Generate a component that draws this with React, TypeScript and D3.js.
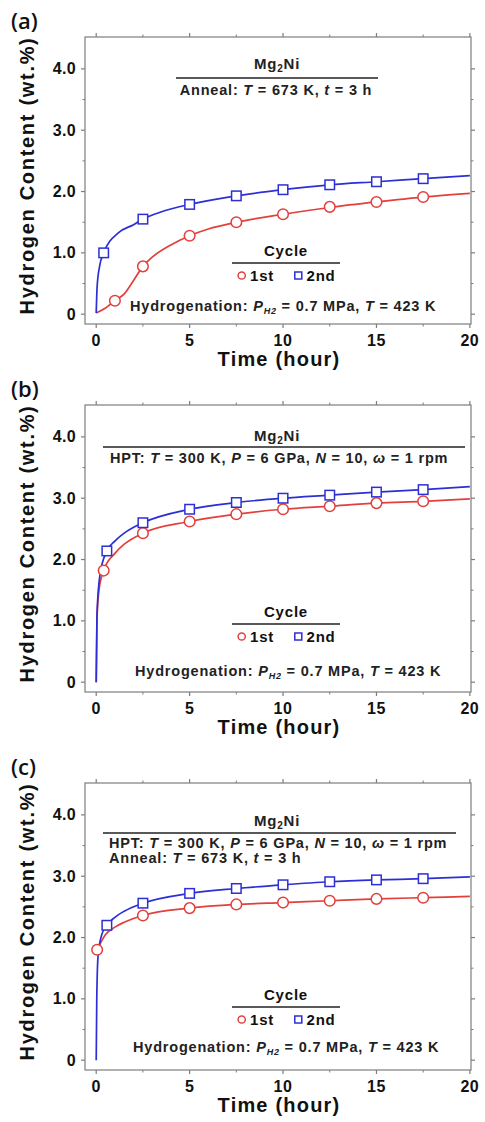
import React from "react";
import * as d3 from "d3";

// ---------- data ----------
const X_TICKS = [0, 5, 10, 15, 20];
const X_MINOR = [2.5, 7.5, 12.5, 17.5];
const Y_TICKS = [0, 1, 2, 3, 4];
const Y_TICK_LABELS = ["0", "1.0", "2.0", "3.0", "4.0"];
const Y_MINOR = [0.5, 1.5, 2.5, 3.5];

// Panel (a) — annealed
const A_T1 = [1.0, 2.5, 5, 7.5, 10, 12.5, 15, 17.5];
const A_H1 = [0.22, 0.78, 1.28, 1.5, 1.63, 1.75, 1.83, 1.91];
const A_T2 = [0.4, 2.5, 5, 7.5, 10, 12.5, 15, 17.5];
const A_H2 = [1.0, 1.55, 1.79, 1.93, 2.03, 2.11, 2.16, 2.21];
const A_FIT1_T = [0, 0.5, 1, 1.5, 2, 2.5, 3, 4, 5, 6, 7.5, 10, 12.5, 15, 17.5, 20];
const A_FIT1_H = [0.02, 0.1, 0.22, 0.33, 0.55, 0.78, 0.93, 1.13, 1.28, 1.39, 1.5, 1.63, 1.74, 1.83, 1.91, 1.97];
const A_FIT2_T = [0, 0.05, 0.18, 0.4, 1.2, 2, 2.5, 3.5, 5, 7.5, 10, 12.5, 15, 17.5, 20];
const A_FIT2_H = [0.02, 0.45, 0.78, 1.0, 1.33, 1.46, 1.55, 1.67, 1.79, 1.93, 2.03, 2.11, 2.16, 2.21, 2.26];

// Panel (b) — HPT
const B_T1 = [0.4, 2.5, 5, 7.5, 10, 12.5, 15, 17.5];
const B_H1 = [1.82, 2.43, 2.62, 2.74, 2.82, 2.87, 2.92, 2.95];
const B_T2 = [0.57, 2.5, 5, 7.5, 10, 12.5, 15, 17.5];
const B_H2 = [2.14, 2.6, 2.82, 2.93, 3.0, 3.05, 3.1, 3.14];
const B_FIT1_T = [0, 0.04, 0.15, 0.4, 1, 1.5, 2.5, 5, 7.5, 10, 12.5, 15, 17.5, 20];
const B_FIT1_H = [0, 1.0, 1.5, 1.82, 2.1, 2.25, 2.43, 2.62, 2.74, 2.82, 2.87, 2.92, 2.95, 2.99];
const B_FIT2_T = [0, 0.04, 0.2, 0.57, 1, 1.5, 2.5, 5, 7.5, 10, 12.5, 15, 17.5, 20];
const B_FIT2_H = [0, 1.1, 1.75, 2.14, 2.3, 2.43, 2.6, 2.82, 2.93, 3.0, 3.05, 3.1, 3.14, 3.19];

// Panel (c) — HPT + anneal
const C_T1 = [0.05, 2.5, 5, 7.5, 10, 12.5, 15, 17.5];
const C_H1 = [1.8, 2.36, 2.48, 2.54, 2.57, 2.6, 2.63, 2.65];
const C_T2 = [0.57, 2.5, 5, 7.5, 10, 12.5, 15, 17.5];
const C_H2 = [2.2, 2.56, 2.72, 2.8, 2.86, 2.91, 2.94, 2.96];
const C_FIT1_T = [0.05, 0.5, 1, 1.5, 2.5, 5, 7.5, 10, 12.5, 15, 17.5, 20];
const C_FIT1_H = [1.8, 2.05, 2.17, 2.25, 2.36, 2.48, 2.54, 2.57, 2.6, 2.63, 2.65, 2.67];
const C_FIT2_T = [0, 0.03, 0.1, 0.3, 0.57, 1, 1.5, 2.5, 5, 7.5, 10, 12.5, 15, 17.5, 20];
const C_FIT2_H = [0, 1.0, 1.7, 2.05, 2.2, 2.33, 2.43, 2.56, 2.72, 2.8, 2.86, 2.91, 2.94, 2.96, 2.99];

const SERIES_NAMES = ["1st", "2nd"];

// ---------- styles ----------
const W = 485;
const H = 1122;
const LEFT = 85;
const RIGHT = 471;
const PH = 287;
const RED = "#e2403c";
const BLUE = "#2d2fd4";
const AXIS = "#7d7d7d";
const FONT = "'Liberation Sans', Arial, sans-serif";
const ANN = { fontSize: 14.5, letterSpacing: 0.8 };

const zip = (a: number[], b: number[]) => a.map((v, i) => [v, b[i]] as [number, number]);

type PanelCfg = {
  label: string;
  top: number;
  s1: [number, number][];
  s2: [number, number][];
  f1: [number, number][];
  f2: [number, number][];
  kind: "a" | "b" | "c";
  legendY: number;
  hydroX: number;
  hydroY: number;
};

const PANELS: PanelCfg[] = [
  { label: "(a)", top: 37, s1: zip(A_T1, A_H1), s2: zip(A_T2, A_H2), f1: zip(A_FIT1_T, A_FIT1_H), f2: zip(A_FIT2_T, A_FIT2_H), kind: "a", legendY: 263, hydroX: 130, hydroY: 306 },
  { label: "(b)", top: 405, s1: zip(B_T1, B_H1), s2: zip(B_T2, B_H2), f1: zip(B_FIT1_T, B_FIT1_H), f2: zip(B_FIT2_T, B_FIT2_H), kind: "b", legendY: 624, hydroX: 135, hydroY: 671 },
  { label: "(c)", top: 783, s1: zip(C_T1, C_H1), s2: zip(C_T2, C_H2), f1: zip(C_FIT1_T, C_FIT1_H), f2: zip(C_FIT2_T, C_FIT2_H), kind: "c", legendY: 1007, hydroX: 133, hydroY: 1047 },
];

const x = d3.scaleLinear().domain([-0.6, 20.06]).range([LEFT, RIGHT]);

function Circle({ cx, cy, r, color }: { cx: number; cy: number; r: number; color: string }) {
  return <circle cx={cx} cy={cy} r={r} fill="#fff" stroke={color} strokeWidth={1.5} />;
}
function Square({ cx, cy, s, color }: { cx: number; cy: number; s: number; color: string }) {
  return <rect x={cx - s / 2} y={cy - s / 2} width={s} height={s} fill="#fff" stroke={color} strokeWidth={1.5} />;
}

const HPT = (x0: number, y: number) => (
  <text x={x0} y={y} {...ANN} fontWeight="bold" fontFamily={FONT} fill="#222">
    HPT: <tspan fontStyle="italic">T</tspan> = 300 K, <tspan fontStyle="italic">P</tspan> = 6 GPa,{" "}
    <tspan fontStyle="italic">N</tspan> = 10, <tspan fontStyle="italic">ω</tspan> = 1 rpm
  </text>
);
const ANNEAL = (x0: number, y: number, anchor: string) => (
  <text x={x0} y={y} {...ANN} fontWeight="bold" fontFamily={FONT} fill="#222" textAnchor={anchor}>
    Anneal: <tspan fontStyle="italic">T</tspan> = 673 K, <tspan fontStyle="italic">t</tspan> = 3 h
  </text>
);
const MG2NI = (cx: number, y: number) => (
  <text x={cx} y={y} fontSize={15} letterSpacing={0.8} fontWeight="bold" fontFamily={FONT} fill="#222" textAnchor="middle">
    Mg<tspan fontSize={10} dy={3}>2</tspan>
    <tspan dy={-3}>Ni</tspan>
  </text>
);

function Panel({ p }: { p: PanelCfg }) {
  const bottom = p.top + PH;
  const y = d3.scaleLinear().domain([-0.16, 4.52]).range([bottom, p.top]);
  const line = d3
    .line<[number, number]>()
    .x((d) => x(d[0]))
    .y((d) => y(d[1]))
    .curve(d3.curveMonotoneX);

  const mid = (p.top + bottom) / 2;
  return (
    <g>
      <text x={11} y={p.top - 8} fontSize={22} fontWeight={600} fontFamily="'Open Sans', sans-serif" fill="#111">
        {p.label}
      </text>
      {/* frame */}
      <rect x={LEFT} y={p.top} width={RIGHT - LEFT} height={PH} fill="none" stroke={AXIS} strokeWidth={1.2} />
      {/* x ticks */}
      {X_TICKS.map((t) => (
        <g key={"xt" + t}>
          <line x1={x(t)} x2={x(t)} y1={bottom} y2={bottom + 4} stroke={AXIS} strokeWidth={1.2} />
          <line x1={x(t)} x2={x(t)} y1={p.top} y2={p.top - 4} stroke={AXIS} strokeWidth={1.2} />
          <text x={x(t)} y={bottom + 22} fontSize={16} letterSpacing={0.6} fontWeight="bold" fontFamily={FONT} textAnchor="middle" fill="#111">
            {t}
          </text>
        </g>
      ))}
      {X_MINOR.map((t) => (
        <g key={"xm" + t}>
          <line x1={x(t)} x2={x(t)} y1={bottom} y2={bottom + 2.5} stroke={AXIS} strokeWidth={1} />
          <line x1={x(t)} x2={x(t)} y1={p.top} y2={p.top - 2.5} stroke={AXIS} strokeWidth={1} />
        </g>
      ))}
      {Y_TICKS.map((v, i) => (
        <g key={"yt" + v}>
          <line x1={LEFT} x2={LEFT - 4} y1={y(v)} y2={y(v)} stroke={AXIS} strokeWidth={1.2} />
          <line x1={RIGHT} x2={RIGHT + 4} y1={y(v)} y2={y(v)} stroke={AXIS} strokeWidth={1.2} />
          <text x={LEFT - 9} y={y(v) + 5.5} fontSize={16} letterSpacing={0.3} fontWeight="bold" fontFamily={FONT} textAnchor="end" fill="#111">
            {Y_TICK_LABELS[i]}
          </text>
        </g>
      ))}
      {Y_MINOR.map((v) => (
        <g key={"ym" + v}>
          <line x1={LEFT} x2={LEFT - 2.5} y1={y(v)} y2={y(v)} stroke={AXIS} strokeWidth={1} />
          <line x1={RIGHT} x2={RIGHT + 2.5} y1={y(v)} y2={y(v)} stroke={AXIS} strokeWidth={1} />
        </g>
      ))}
      {/* axis titles */}
      <text
        transform={`translate(34,${mid - 5}) rotate(-90)`}
        fontSize={20}
        letterSpacing={1.7}
        fontWeight="bold"
        fontFamily={FONT}
        textAnchor="middle"
        fill="#111"
      >
        Hydrogen Content (wt.%)
      </text>
      <text x={279} y={bottom + 41.5} fontSize={20} letterSpacing={1.2} fontWeight="bold" fontFamily={FONT} textAnchor="middle" fill="#111">
        Time (hour)
      </text>

      {/* header annotations */}
      {p.kind === "a" && (
        <g>
          {MG2NI(277, p.top + 32)}
          <line x1={176} x2={378} y1={p.top + 41} y2={p.top + 41} stroke="#222" strokeWidth={1.5} />
          {ANNEAL(276, p.top + 58, "middle")}
        </g>
      )}
      {p.kind === "b" && (
        <g>
          {MG2NI(277, p.top + 36)}
          <line x1={103} x2={465} y1={p.top + 42} y2={p.top + 42} stroke="#222" strokeWidth={1.5} />
          {HPT(110, p.top + 58)}
        </g>
      )}
      {p.kind === "c" && (
        <g>
          {MG2NI(277, p.top + 43)}
          <line x1={103} x2={456} y1={p.top + 50} y2={p.top + 50} stroke="#222" strokeWidth={1.5} />
          {HPT(109, p.top + 65)}
          {ANNEAL(109, p.top + 80, "start")}
        </g>
      )}

      {/* curves */}
      <path d={line(p.f1) || ""} fill="none" stroke={RED} strokeWidth={1.7} />
      <path d={line(p.f2) || ""} fill="none" stroke={BLUE} strokeWidth={1.7} />
      {/* markers */}
      {p.s1.map((d, i) => (
        <Circle key={"c" + i} cx={x(d[0])} cy={y(d[1])} r={5.3} color={RED} />
      ))}
      {p.s2.map((d, i) => (
        <Square key={"s" + i} cx={x(d[0])} cy={y(d[1])} s={9.5} color={BLUE} />
      ))}

      {/* legend */}
      <text x={286} y={p.legendY - 7} fontSize={15} letterSpacing={0.8} fontWeight="bold" fontFamily={FONT} textAnchor="middle" fill="#111">
        Cycle
      </text>
      <line x1={232} x2={340} y1={p.legendY} y2={p.legendY} stroke="#222" strokeWidth={1.5} />
      <Circle cx={241.7} cy={p.legendY + 12.5} r={3.6} color={RED} />
      <text x={250} y={p.legendY + 18} fontSize={15} letterSpacing={0.8} fontWeight="bold" fontFamily={FONT} fill="#111">
        {SERIES_NAMES[0]}
      </text>
      <Square cx={298.3} cy={p.legendY + 12.5} s={7} color={BLUE} />
      <text x={306.5} y={p.legendY + 18} fontSize={15} letterSpacing={0.8} fontWeight="bold" fontFamily={FONT} fill="#111">
        {SERIES_NAMES[1]}
      </text>

      {/* hydrogenation conditions */}
      <text x={p.hydroX} y={p.hydroY + 5} {...ANN} fontWeight="bold" fontFamily={FONT} fill="#222">
        Hydrogenation: <tspan fontStyle="italic">P</tspan>
        <tspan fontStyle="italic" fontSize={9} dy={3}>H2</tspan>
        <tspan dy={-3}> = 0.7 MPa, </tspan>
        <tspan fontStyle="italic">T</tspan> = 423 K
      </text>
    </g>
  );
}

export default function App() {
  return (
    <svg
      width={W}
      height={H}
      viewBox={`0 0 ${W} ${H}`}
      style={{ position: "absolute", left: 0, top: 0, background: "#fff" }}
    >
      <rect x={0} y={0} width={W} height={H} fill="#fff" />
      {PANELS.map((p) => (
        <Panel key={p.label} p={p} />
      ))}
    </svg>
  );
}
